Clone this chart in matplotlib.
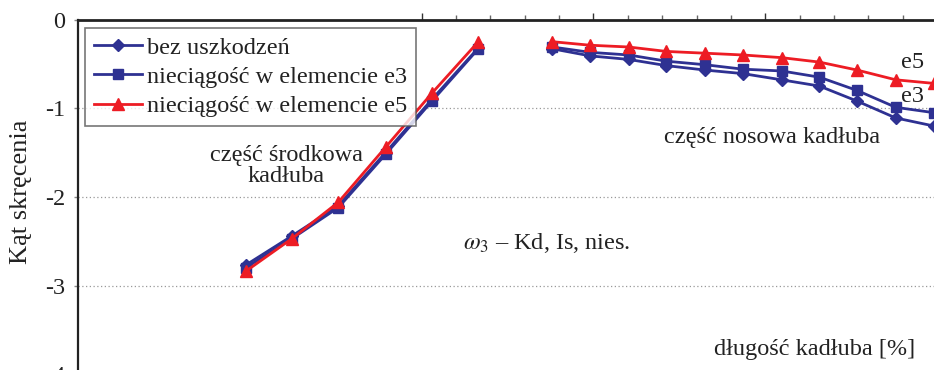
import matplotlib
matplotlib.use("Agg")
import matplotlib.pyplot as plt
import numpy as np

plt.rcParams['font.family'] = ['Liberation Serif', 'DejaVu Serif']
plt.rcParams['mathtext.fontset'] = 'stix'

# ---- data ----
x_center = [19.5, 24.9, 30.3, 35.8, 41.2, 46.6]
x_nose = [55.2, 59.6, 64.1, 68.5, 73.0, 77.4, 81.9, 86.3, 90.7, 95.2, 99.6]

bez_center = [-2.77, -2.44, -2.10, -1.50, -0.90, -0.32]
bez_nose = [-0.33, -0.41, -0.45, -0.52, -0.57, -0.61, -0.68, -0.75, -0.92, -1.11, -1.20]
e3_center = [-2.80, -2.47, -2.12, -1.52, -0.92, -0.33]
e3_nose = [-0.31, -0.37, -0.40, -0.47, -0.51, -0.56, -0.58, -0.65, -0.80, -0.99, -1.05]
e5_center = [-2.84, -2.47, -2.06, -1.44, -0.83, -0.25]
e5_nose = [-0.25, -0.29, -0.31, -0.36, -0.38, -0.40, -0.43, -0.48, -0.57, -0.68, -0.72]

labels = ["bez uszkodzeń", "nieciągość w elemencie e3", "nieciągość w elemencie e5"]
y_ticks = [0, -1, -2, -3, -4]
y_ticklabels = ["0", "-1", "-2", "-3", "-4"]

BLUE = '#2E3192'
RED = '#ED1C24'
FS = 17.5

W, H = 934, 370
fig = plt.figure(figsize=(W / 100, H / 100), dpi=100)
left_px, right_px = 78.1, 937.0
top_px, bot_px = 19.5, 374.3
ax = fig.add_axes([left_px / W, 1 - bot_px / H, (right_px - left_px) / W, (bot_px - top_px) / H])

def joined(a, b):
    return np.array(list(a) + [np.nan] + list(b), dtype=float)

xs = joined(x_center, x_nose)
series = [
    (joined(bez_center, bez_nose), BLUE, 'D', 6.0),
    (joined(e3_center, e3_nose), BLUE, 's', 6.5),
    (joined(e5_center, e5_nose), RED, '^', 8.0),
]
handles = []
for (ys, col, mk, ms), lab in zip(series, labels):
    h, = ax.plot(xs, ys, color=col, lw=2.0, marker=mk, ms=ms,
                 markerfacecolor=col, markeredgecolor=col, label=lab)
    handles.append(h)

ax.set_xlim(0, 100)
ax.set_ylim(-4, 0)

# spines
for s in ['right', 'bottom']:
    ax.spines[s].set_visible(False)
ax.spines['top'].set_linewidth(2.0)
ax.spines['top'].set_color('#222222')
ax.spines['left'].set_linewidth(1.6)
ax.spines['left'].set_color('#222222')

# x ticks on top, pointing up, no labels
ax.xaxis.tick_top()
ax.set_xticks([40, 60, 80, 100])
ax.set_xticks([44, 48, 52, 56, 64, 68, 72, 76, 84, 88, 92, 96], minor=True)
ax.tick_params(axis='x', which='major', direction='out', length=5, width=1,
               color='#333333', labeltop=False, labelbottom=False)
ax.tick_params(axis='x', which='minor', direction='out', length=3.5, width=1,
               color='#666666', labeltop=False, labelbottom=False)

ax.set_yticks(y_ticks)
ax.set_yticklabels(y_ticklabels)
ax.tick_params(axis='y', direction='out', length=3, width=1, color='#888888',
               labelsize=FS, pad=6, labelcolor='#222222')

# grid
for yv in [-1, -2, -3]:
    ax.axhline(yv, color='#999999', lw=0.9, ls=(0, (1, 2)), zorder=0)

# legend
leg = ax.legend(handles=handles, loc='upper left',
                bbox_to_anchor=(85 / W, 1 - 28 / H), bbox_transform=fig.transFigure,
                borderaxespad=0, frameon=True, fancybox=False, fontsize=FS,
                handlelength=2.0, handletextpad=0.2, labelspacing=0.3,
                borderpad=0.35)
leg.get_frame().set_edgecolor('#555555')
leg.get_frame().set_linewidth(1.2)
for t in leg.get_texts():
    t.set_color('#222222')

def px2data(px, py):
    return ((px - left_px) / (right_px - left_px) * 100, -(py - top_px) / (bot_px - top_px) * 4)

tc = '#222222'
x, y = px2data(286, 166)
ax.text(x, y, "część środkowa\nkadłuba", ha='center', va='center', fontsize=FS,
        color=tc, linespacing=1.0)
x, y = px2data(463, 243)
ax.text(x, y, r"$\omega_3$ – Kd, Is, nies.", ha='left', va='center', fontsize=FS, color=tc)
x, y = px2data(772, 137)
ax.text(x, y, "część nosowa kadłuba", ha='center', va='center', fontsize=FS, color=tc)
x, y = px2data(901, 62)
ax.text(x, y, "e5", ha='left', va='center', fontsize=FS, color=tc)
x, y = px2data(901, 96)
ax.text(x, y, "e3", ha='left', va='center', fontsize=FS, color=tc)
x, y = px2data(915, 350)
ax.text(x, y, "długość kadłuba [%]", ha='right', va='center', fontsize=FS, color=tc)

fig.text(21 / W, 1 - 192 / H, "Kąt skręcenia", rotation=90, ha='center', va='center',
         fontsize=19, color=tc)

fig.savefig("out.png", dpi=100)
